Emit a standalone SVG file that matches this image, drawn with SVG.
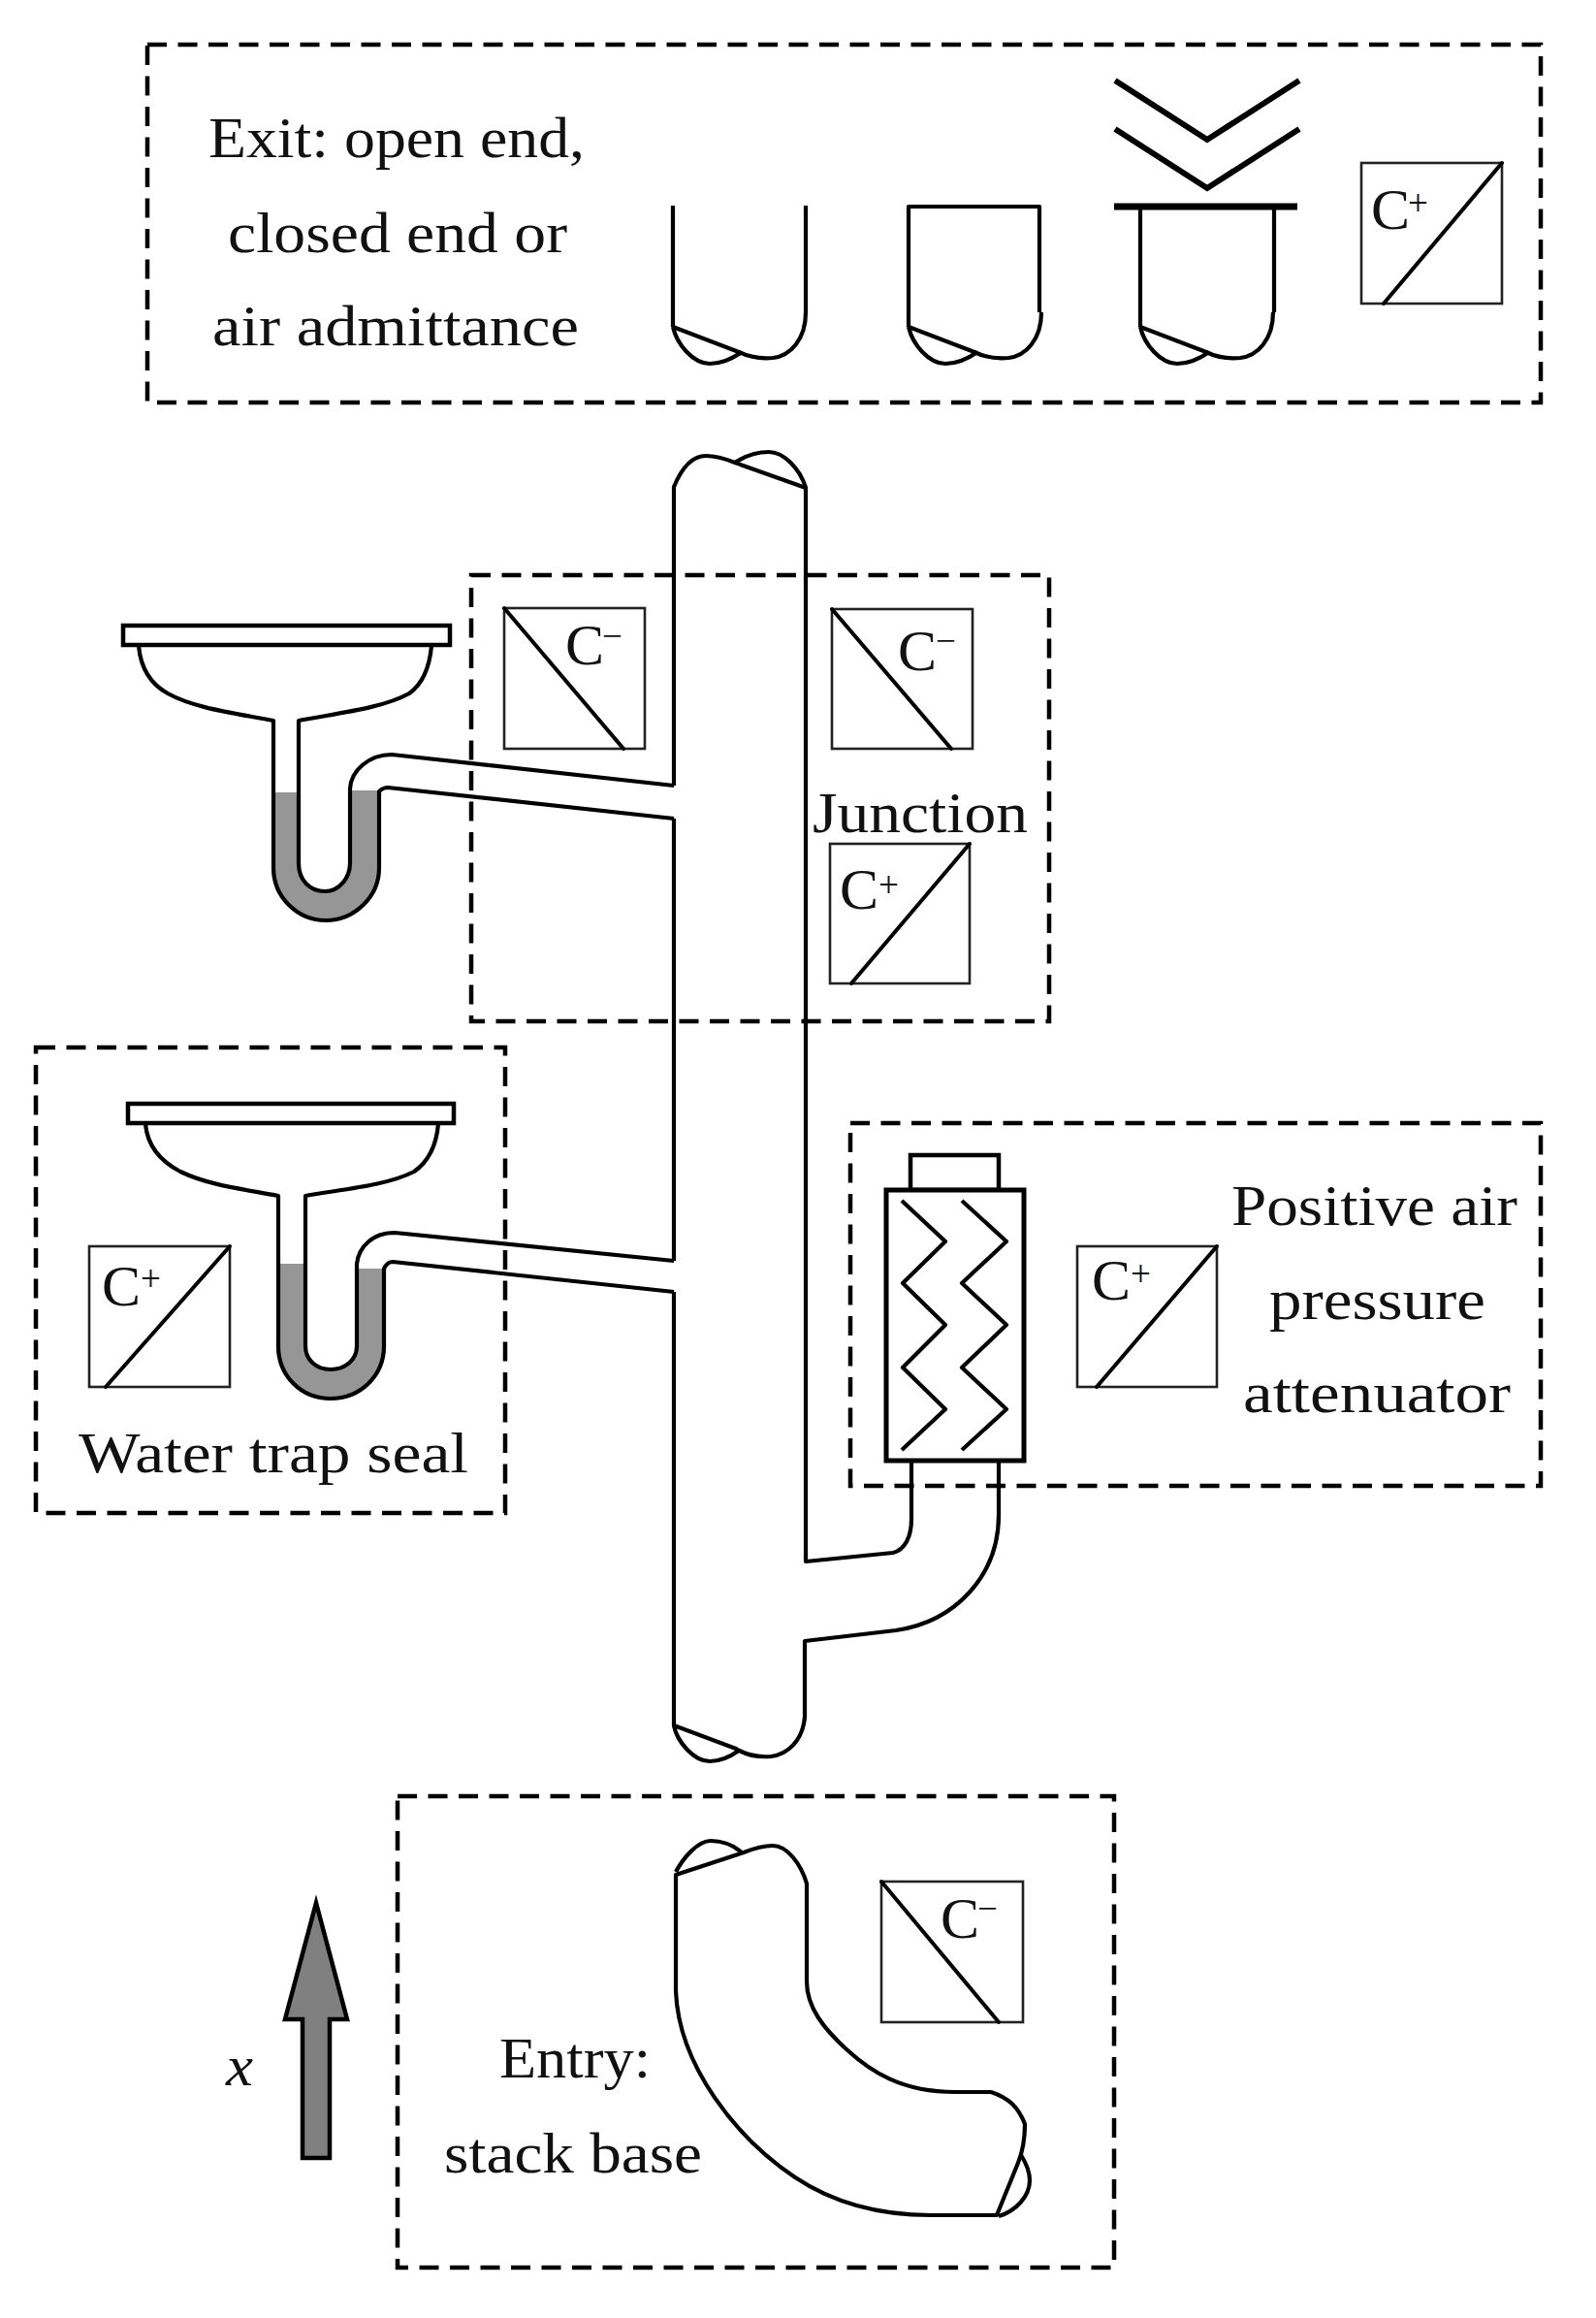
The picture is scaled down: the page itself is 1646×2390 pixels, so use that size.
<svg xmlns="http://www.w3.org/2000/svg" width="1646" height="2390" viewBox="0 0 1646 2390">
<style>
.box{fill:none;stroke:#000;stroke-width:4.5;stroke-dasharray:20 11.5}
.pipe{fill:none;stroke:#000;stroke-width:4.2;stroke-linejoin:round}
.thin{fill:none;stroke:#222;stroke-width:2.6}
.diag{fill:none;stroke:#000;stroke-width:4;stroke-linecap:round}
.rim{fill:#fff;stroke:#000;stroke-width:4.5}
.water{fill:#969696;stroke:none}
text{font-family:"Liberation Serif","Times New Roman",serif;font-size:60px;fill:#111}
.sup{font-size:37px}
</style>
<defs>
<g id="pipe-end">
<path class="pipe" d="M694,337 L762,363 C772,368 785,370 797,369 C815,367 831,350 831,322"/>
<path class="pipe" d="M694,337 C698,355 715,375 732,375 C745,375 755,370 765,363"/>
</g>
</defs>
<rect width="1646" height="2390" fill="#fff"/>

<g id="exit-node">
<rect class="box" x="152" y="46" width="1437" height="369"/>
<text x="215" y="162" textLength="388" lengthAdjust="spacingAndGlyphs">Exit: open end,</text>
<text x="235" y="260" textLength="350" lengthAdjust="spacingAndGlyphs">closed end or</text>
<text x="219" y="356" textLength="378" lengthAdjust="spacingAndGlyphs">air admittance</text>
<path class="pipe" d="M694,212 V337 M831,212 V322"/>
<use href="#pipe-end"/>
<path class="pipe" d="M937,337 V213 H1072 V322"/>
<use href="#pipe-end" transform="translate(243,0)"/>
<path class="pipe" d="M1176,337 V213 M1314,213 V322"/>
<use href="#pipe-end" transform="translate(482,0)"/>
<path d="M1149,213 H1338" fill="none" stroke="#000" stroke-width="7"/>
<path d="M1150,83 L1245,144 L1340,83 M1150,133 L1245,194 L1340,133" fill="none" stroke="#000" stroke-width="6"/>
<rect class="thin" x="1404" y="168" width="145" height="145"/>
<path class="diag" d="M1549,168 L1427,313"/>
<text x="1414" y="236">C<tspan class="sup" x="1452" y="222">+</tspan></text>
</g>

<g id="stack">
<path class="pipe" d="M695,844 V1300 M695,1332 V1779 L759,1803 C770,1810 782,1812 795,1811 C812,1809 828,1795 830,1770 V1692 L924,1681 C985,1672 1030,1625 1030,1562 V1505"/>
<path class="pipe" d="M695,1779 C698,1795 715,1816 732,1816 C742,1816 752,1812 762,1805"/>
<path class="pipe" d="M695,810 V502 C702,485 712,470 728,470 C738,470 748,473 758,477 L831,503 V1610 L921,1601 C933,1598 940,1585 940,1566 V1505"/>
<path class="pipe" d="M758,477 C770,469 782,466 793,466 C808,466 825,483 831,503"/>
</g>

<g id="basin-upper">
<path class="water" d="M282,817 H308 V890 C308,908 320,919 335,919 C350,919 361,905 361,890 V815 H391 V895 C391,925 365,949 336,949 C307,949 282,925 282,895 Z"/>
<path class="pipe" d="M143,666 C145,688 155,705 173,715 C200,730 240,735 282,743 V895 C282,925 307,949 336,949 C365,949 391,925 391,895 V816 C393,814 396,812 400,812 L695,844"/>
<path class="pipe" d="M445,666 C443,688 436,705 422,715 C395,730 350,735 308,743 V890 C308,908 320,919 335,919 C350,919 361,905 361,890 V813 C362,795 380,778 404,778 L695,810"/>
<rect class="rim" x="127" y="645" width="337" height="20"/>
</g>

<g id="junction-node">
<rect class="box" x="486" y="593" width="596" height="460"/>
<rect class="thin" x="520" y="627" width="145" height="145"/>
<path class="diag" d="M520,627 L643,772"/>
<text x="583" y="685">C<tspan class="sup" x="621" y="668">−</tspan></text>
<rect class="thin" x="858" y="628" width="145" height="144"/>
<path class="diag" d="M858,628 L981,772"/>
<text x="926" y="691">C<tspan class="sup" x="965" y="673">−</tspan></text>
<text x="838" y="858" textLength="222" lengthAdjust="spacingAndGlyphs">Junction</text>
<rect class="thin" x="856" y="870" width="144" height="144"/>
<path class="diag" d="M1000,870 L878,1014"/>
<text x="866" y="937">C<tspan class="sup" x="906" y="925">+</tspan></text>
</g>

<g id="water-trap-node">
<rect class="box" x="37" y="1080" width="484" height="480"/>
<path class="water" d="M287,1303 H315 V1388 C315,1402 326,1412 341,1412 C356,1412 368,1402 368,1388 V1308 H396 V1388 C396,1418 372,1442 341,1442 C310,1442 287,1418 287,1388 Z"/>
<path class="pipe" d="M150,1159 C152,1181 165,1197 186,1208 C215,1222 250,1226 287,1233 V1388 C287,1418 310,1442 341,1442 C372,1442 396,1418 396,1388 V1308 C398,1304 401,1301 405,1301 L695,1332"/>
<path class="pipe" d="M452,1159 C450,1181 443,1197 427,1208 C400,1222 355,1226 315,1233 V1388 C315,1402 326,1412 341,1412 C356,1412 368,1402 368,1388 V1303 C370,1285 385,1271 407,1271 L695,1300"/>
<rect class="rim" x="132" y="1138" width="336" height="20"/>
<rect class="thin" x="92" y="1285" width="145" height="145"/>
<path class="diag" d="M237,1285 L109,1430"/>
<text x="105" y="1346">C<tspan class="sup" x="145" y="1331">+</tspan></text>
<text x="81" y="1518" textLength="402" lengthAdjust="spacingAndGlyphs">Water trap seal</text>
</g>

<g id="attenuator-node">
<rect class="box" x="877" y="1158" width="712" height="374"/>
<rect x="939" y="1191" width="91" height="36" fill="#fff" stroke="#000" stroke-width="4.5"/>
<rect x="914" y="1227" width="142" height="279" fill="#fff" stroke="#000" stroke-width="5"/>
<path class="pipe" d="M930,1238 L975,1280 L931,1323 L975,1366 L931,1410 L975,1453 L930,1495"/>
<path class="pipe" d="M992,1238 L1038,1280 L992,1323 L1038,1366 L992,1410 L1038,1453 L992,1495"/>
<rect class="thin" x="1111" y="1285" width="144" height="145"/>
<path class="diag" d="M1255,1285 L1131,1430"/>
<text x="1126" y="1340">C<tspan class="sup" x="1166" y="1326">+</tspan></text>
<text x="1270" y="1263" textLength="295" lengthAdjust="spacingAndGlyphs">Positive air</text>
<text x="1309" y="1360" textLength="223" lengthAdjust="spacingAndGlyphs">pressure</text>
<text x="1282" y="1456" textLength="276" lengthAdjust="spacingAndGlyphs">attenuator</text>
</g>

<g id="entry-node">
<rect class="box" x="410" y="1852" width="739" height="486"/>
<path class="pipe" d="M697,1933 V2053 C700,2130 760,2205 820,2245 C856,2269 900,2284 960,2284 H1028 L1050,2230 C1054,2220 1057,2205 1057,2190 C1050,2172 1040,2163 1022,2157 H985 C930,2157 898,2136 873,2113 C850,2092 832,2070 832,2043 V1942 C826,1922 812,1903 797,1903 C787,1903 777,1906 767,1910 Z"/>
<path class="pipe" d="M697,1930 C705,1915 720,1898 733,1898 C745,1898 757,1903 765,1910"/>
<path class="pipe" d="M1053,2222 C1058,2230 1062,2240 1062,2248 C1062,2265 1047,2280 1030,2285"/>
<rect class="thin" x="909" y="1940" width="146" height="145"/>
<path class="diag" d="M909,1940 L1030,2085"/>
<text x="970" y="1998">C<tspan class="sup" x="1008" y="1980">−</tspan></text>
<text x="515" y="2142" textLength="156" lengthAdjust="spacingAndGlyphs">Entry:</text>
<text x="458" y="2240" textLength="266" lengthAdjust="spacingAndGlyphs">stack base</text>
</g>

<g id="direction-arrow">
<path d="M326,1962 L358,2082 H340 V2225 H312 V2082 H294 Z" fill="#808080" stroke="#000" stroke-width="4.5"/>
<text x="233" y="2150" font-style="italic" fill="#333" textLength="28" lengthAdjust="spacingAndGlyphs">x</text>
</g>
</svg>
